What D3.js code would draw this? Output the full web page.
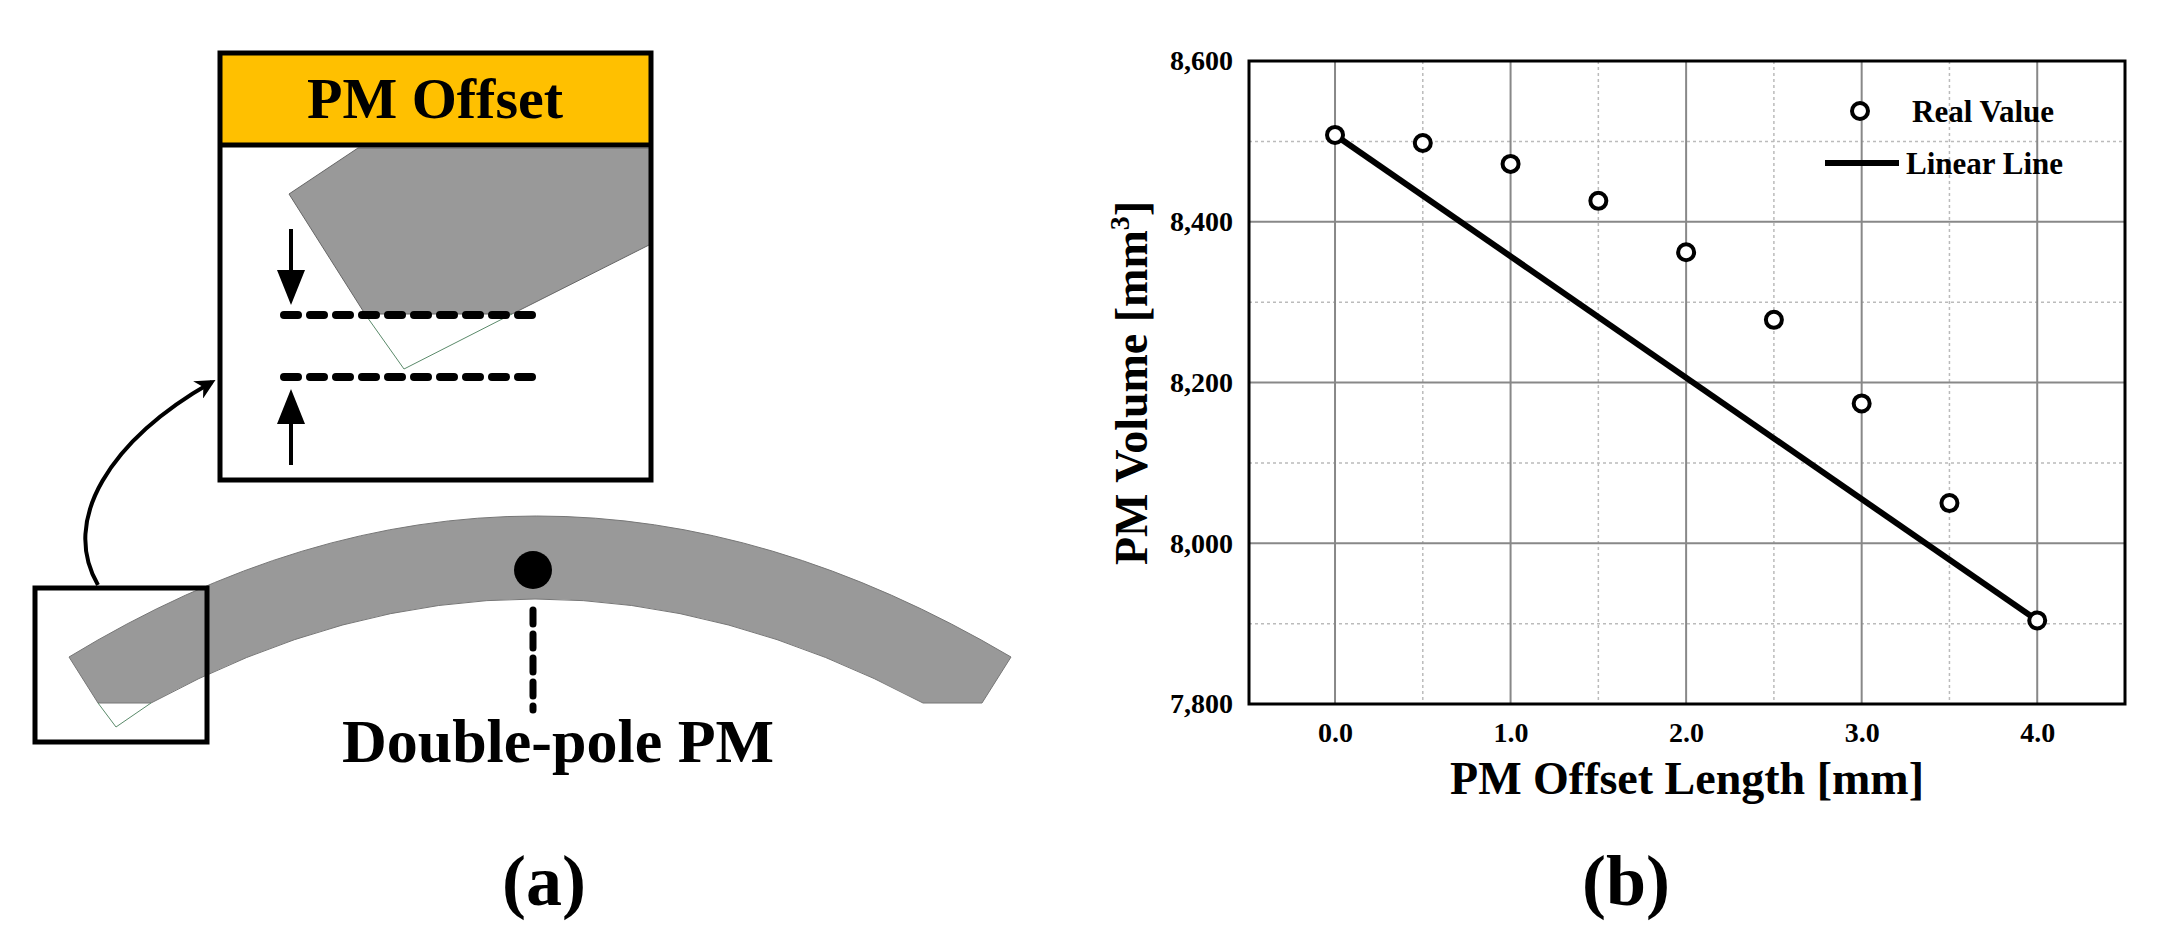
<!DOCTYPE html>
<html>
<head>
<meta charset="utf-8">
<script src="https://cdn.jsdelivr.net/npm/d3@7"></script>
<style>
  body { margin: 0; background: #fff; }
  text { font-family: "Liberation Serif", "Times New Roman", serif; font-weight: bold; fill: #000; }
</style>
</head>
<body>
<script>
// data
var offsets = [0, 0.5, 1, 1.5, 2, 2.5, 3, 3.5, 4];
var volumes = [8508, 8498, 8472, 8426, 8362, 8278, 8174, 8050, 7904];
var linearX = [0, 4];
var linearY = [8508, 7904];
var xTicks = [0, 1, 2, 3, 4];
var yTicks = [7800, 8000, 8200, 8400, 8600];
var xMinor = [0.5, 1.5, 2.5, 3.5];
var yMinor = [7900, 8100, 8300, 8500];

var svg = d3.select("body").append("svg")
    .attr("width", 2157).attr("height", 946);

// ---------- panel (a): schematic ----------
var a = svg.append("g");

// arc shaped magnet
a.append("path")
    .attr("d", "M69,657 Q533,375 1011,657 L982,703 L923,703 Q533,495 151,703 L98,703 Z")
    .attr("fill", "#999").attr("stroke", "#777").attr("stroke-width", 1);
a.append("path")
    .attr("d", "M98,703 L116,727 L151,703")
    .attr("fill", "none").attr("stroke", "#5a8a6a").attr("stroke-width", 1);

// centre dot and dashed line
a.append("circle").attr("cx", 533).attr("cy", 570).attr("r", 19).attr("fill", "#000");
a.append("line").attr("x1", 533).attr("x2", 533).attr("y1", 610).attr("y2", 710)
    .attr("stroke", "#000").attr("stroke-width", 7)
    .attr("stroke-dasharray", "14,10").attr("stroke-linecap", "round");

// small box
a.append("rect").attr("x", 35).attr("y", 588).attr("width", 172).attr("height", 154)
    .attr("fill", "none").attr("stroke", "#000").attr("stroke-width", 5);

// curved arrow
svg.append("defs").append("marker")
    .attr("id", "ah").attr("viewBox", "0 0 10 10").attr("refX", 8).attr("refY", 5)
    .attr("markerWidth", 5).attr("markerHeight", 5).attr("orient", "auto")
    .append("path").attr("d", "M0,0 L10,5 L0,10 L3,5 Z").attr("fill", "#000");
a.append("path")
    .attr("d", "M98,585 C60,520 110,440 212,382")
    .attr("fill", "none").attr("stroke", "#000").attr("stroke-width", 4)
    .attr("marker-end", "url(#ah)");

// inset
a.append("rect").attr("x", 220).attr("y", 53).attr("width", 431).attr("height", 92)
    .attr("fill", "#ffc000");
a.append("path")
    .attr("d", "M358,148 L289,194 L365,314 L512,314 L651,244 L651,148 Z")
    .attr("fill", "#999").attr("stroke", "#666").attr("stroke-width", 1);
a.append("path").attr("d", "M365,314 L404,369 L512,314")
    .attr("fill", "none").attr("stroke", "#5a8a6a").attr("stroke-width", 1);
a.append("rect").attr("x", 220).attr("y", 53).attr("width", 431).attr("height", 427)
    .attr("fill", "none").attr("stroke", "#000").attr("stroke-width", 5);
a.append("line").attr("x1", 220).attr("x2", 651).attr("y1", 145).attr("y2", 145)
    .attr("stroke", "#000").attr("stroke-width", 5);
[315, 377].forEach(function (yy) {
    a.append("line").attr("x1", 284).attr("x2", 540).attr("y1", yy).attr("y2", yy)
        .attr("stroke", "#000").attr("stroke-width", 8)
        .attr("stroke-dasharray", "14,12").attr("stroke-linecap", "round");
});
// straight arrows
a.append("line").attr("x1", 291).attr("x2", 291).attr("y1", 229).attr("y2", 280)
    .attr("stroke", "#000").attr("stroke-width", 4);
a.append("path").attr("d", "M277,270 L305,270 L291,305 Z").attr("fill", "#000");
a.append("line").attr("x1", 291).attr("x2", 291).attr("y1", 465).attr("y2", 414)
    .attr("stroke", "#000").attr("stroke-width", 4);
a.append("path").attr("d", "M277,424 L305,424 L291,389 Z").attr("fill", "#000");

a.append("text").attr("x", 435).attr("y", 118).attr("text-anchor", "middle")
    .style("font-size", "58px").text("PM Offset");
a.append("text").attr("x", 558).attr("y", 762).attr("text-anchor", "middle")
    .style("font-size", "62px").text("Double-pole PM");
a.append("text").attr("x", 544).attr("y", 905).attr("text-anchor", "middle")
    .style("font-size", "72px").text("(a)");

// ---------- panel (b): chart ----------
var margin = { left: 1249, top: 61 },
    width = 2125 - 1249,
    height = 704 - 61;

var g = svg.append("g")
    .attr("transform", "translate(" + margin.left + "," + margin.top + ")");

var x = d3.scaleLinear().domain([-0.49, 4.5]).range([0, width]);
var y = d3.scaleLinear().domain([7800, 8600]).range([height, 0]);

// minor grid (dotted)
g.selectAll(".gxm").data(xMinor).enter().append("line")
    .attr("x1", function (d) { return x(d); }).attr("x2", function (d) { return x(d); })
    .attr("y1", 0).attr("y2", height)
    .attr("stroke", "#bbb").attr("stroke-width", 1.5).attr("stroke-dasharray", "3,3");
g.selectAll(".gym").data(yMinor).enter().append("line")
    .attr("y1", function (d) { return y(d); }).attr("y2", function (d) { return y(d); })
    .attr("x1", 0).attr("x2", width)
    .attr("stroke", "#bbb").attr("stroke-width", 1.5).attr("stroke-dasharray", "3,3");
// major grid
g.selectAll(".gx").data(xTicks).enter().append("line")
    .attr("x1", function (d) { return x(d); }).attr("x2", function (d) { return x(d); })
    .attr("y1", 0).attr("y2", height)
    .attr("stroke", "#888").attr("stroke-width", 2);
g.selectAll(".gy").data(yTicks.slice(1, -1)).enter().append("line")
    .attr("y1", function (d) { return y(d); }).attr("y2", function (d) { return y(d); })
    .attr("x1", 0).attr("x2", width)
    .attr("stroke", "#888").attr("stroke-width", 2);

// frame
g.append("rect").attr("width", width).attr("height", height)
    .attr("fill", "none").attr("stroke", "#000").attr("stroke-width", 3);

// axes (labels only)
var xAxis = g.append("g").attr("transform", "translate(0," + height + ")")
    .call(d3.axisBottom(x).tickValues(xTicks).tickSize(0).tickPadding(18));
xAxis.select(".domain").remove();
xAxis.selectAll("text").style("font-size", "28px").style("font-family", "Liberation Serif").style("font-weight", "bold");

var yAxis = g.append("g")
    .call(d3.axisLeft(y).tickValues(yTicks).tickSize(0).tickPadding(16));
yAxis.select(".domain").remove();
yAxis.selectAll("text").style("font-size", "28px").style("font-family", "Liberation Serif").style("font-weight", "bold");

// linear line
g.append("path")
    .datum(d3.zip(linearX, linearY))
    .attr("d", d3.line().x(function (d) { return x(d[0]); }).y(function (d) { return y(d[1]); }))
    .attr("stroke", "#000").attr("stroke-width", 6).attr("fill", "none");

// real values
g.selectAll(".pt").data(d3.zip(offsets, volumes)).enter().append("circle")
    .attr("cx", function (d) { return x(d[0]); })
    .attr("cy", function (d) { return y(d[1]); })
    .attr("r", 8).attr("fill", "#fff").attr("stroke", "#000").attr("stroke-width", 4);

// legend
g.append("circle").attr("cx", 1860 - margin.left).attr("cy", 111 - margin.top)
    .attr("r", 8).attr("fill", "#fff").attr("stroke", "#000").attr("stroke-width", 4);
g.append("text").attr("x", 1912 - margin.left).attr("y", 122 - margin.top)
    .style("font-size", "31px").text("Real Value");
g.append("line").attr("x1", 1825 - margin.left).attr("x2", 1899 - margin.left)
    .attr("y1", 163 - margin.top).attr("y2", 163 - margin.top)
    .attr("stroke", "#000").attr("stroke-width", 6);
g.append("text").attr("x", 1906 - margin.left).attr("y", 174 - margin.top)
    .style("font-size", "31px").text("Linear Line");

// axis titles
svg.append("text").attr("x", 1687).attr("y", 794).attr("text-anchor", "middle")
    .style("font-size", "46px").text("PM Offset Length [mm]");
var yt = svg.append("text").attr("transform", "translate(1147,383) rotate(-90)")
    .attr("text-anchor", "middle").style("font-size", "46px");
yt.append("tspan").text("PM Volume [mm");
yt.append("tspan").attr("dy", -18).style("font-size", "28px").text("3");
yt.append("tspan").attr("dy", 18).text("]");

svg.append("text").attr("x", 1626).attr("y", 905).attr("text-anchor", "middle")
    .style("font-size", "72px").text("(b)");
</script>
</body>
</html>
